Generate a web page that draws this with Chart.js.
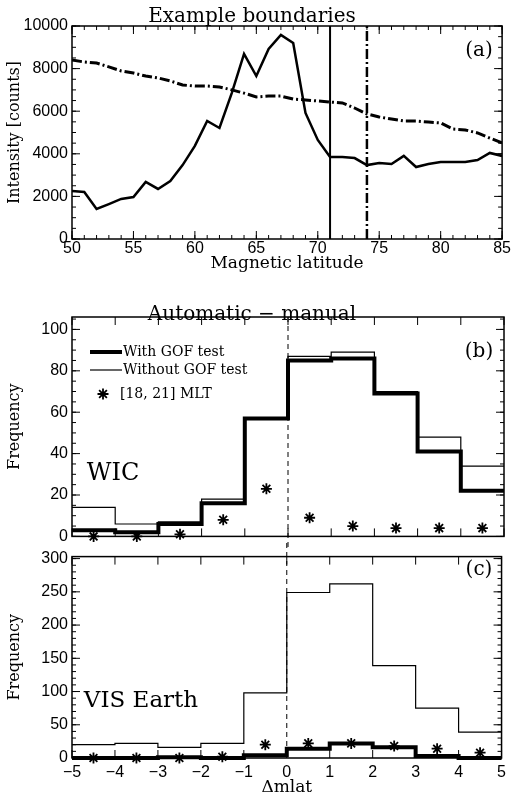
<!DOCTYPE html>
<html>
<head>
<meta charset="utf-8">
<script src="https://cdn.jsdelivr.net/npm/chart.js@4.4.0/dist/chart.umd.min.js"></script>
<style>
body { margin: 0; background: #fff; }
#wrap { position: relative; width: 511px; height: 799px; }
canvas { position: absolute; left: 0; }
</style>
</head>
<body>
<div id="wrap">
  <canvas id="panelA" width="511" height="285" style="top:0px"></canvas>
  <canvas id="panelB" width="511" height="265" style="top:285px"></canvas>
  <canvas id="panelC" width="511" height="256" style="top:543px"></canvas>
</div>
<script>
// panel (a): intensity profile along magnetic latitude
const latitudes = [50, 51, 52, 53, 54, 55, 56, 57, 58, 59, 60, 61, 62, 63, 64, 65, 66, 67,
    68, 69, 70, 71, 72, 73, 74, 75, 76, 77, 78, 79, 80, 81, 82, 83, 84, 85];
const intensity = [2250, 2210, 1410, 1640, 1880, 1970, 2680, 2350, 2720, 3470, 4370, 5540,
    5210, 6850, 8690, 7650, 8920, 9580, 9200, 5920, 4650, 3850, 3850, 3800, 3470, 3570,
    3520, 3900, 3380, 3520, 3620, 3620, 3620, 3710, 4040, 3900];
const background = [8400, 8310, 8260, 8080, 7890, 7790, 7650, 7560, 7420, 7230, 7180, 7180,
    7140, 7000, 6850, 6670, 6710, 6710, 6570, 6530, 6480, 6430, 6390, 6150, 5870, 5730,
    5630, 5540, 5540, 5490, 5450, 5160, 5120, 4980, 4740, 4510];
const boundaries = [71, 74];

// panels (b) and (c): histograms of automatic - manual
const binEdges = [-5, -4, -3, -2, -1, 0, 1, 2, 3, 4, 5];
const binCenters = [-4.5, -3.5, -2.5, -1.5, -0.5, 0.5, 1.5, 2.5, 3.5, 4.5];
const wicWithGof = [3, 2, 6, 16, 57, 85, 86, 69, 41, 22];
const wicWithoutGof = [14, 6, 7, 18, 57, 87, 89, 70, 48, 34];
const wicMlt = [0, 0, 1, 8, 23, 9, 5, 4, 4, 4];
const visWithGof = [0, 0, 1, 0, 4, 14, 22, 16, 3, 0];
const visWithoutGof = [20, 22, 16, 22, 98, 249, 262, 139, 75, 39];
const visMlt = [0, 0, 0, 2, 20, 22, 22, 18, 14, 8];

Chart.defaults.font.family = "'Liberation Sans', Arial, sans-serif";
Chart.defaults.font.size = 16;
Chart.defaults.color = '#000';
Chart.defaults.animation = false;
const serif = "'DejaVu Serif', serif";
const dashDot = [10, 3, 2, 3];

function minusSign(v) { return String(v).replace('-', '\u2212'); }

function histPoints(values) {
    const pts = values.map((v, i) => ({ x: binEdges[i], y: v }));
    pts.push({ x: binEdges[binEdges.length - 1], y: values[values.length - 1] });
    return pts;
}

function yAxis(min, max, step, title) {
    return {
        type: 'linear', min: min, max: max,
        border: { display: false },
        grid: { display: false, drawTicks: false },
        ticks: { stepSize: step, includeBounds: false, padding: 4, callback: v => String(v), font: { size: 16, lineHeight: 1.2 } },
        title: { display: true, text: title, font: { family: serif, size: 16 }, padding: { top: 5, bottom: 0 } },
        afterFit: s => { s.width = 72; }
    };
}

function xAxis(min, max, step, title, labelPad, titlePad, height) {
    return {
        type: 'linear', min: min, max: max,
        border: { display: false },
        grid: { display: false, drawTicks: false },
        ticks: { display: title !== '', stepSize: step, padding: labelPad, maxRotation: 0, callback: minusSign, font: { size: 16, lineHeight: 1.2 } },
        title: { display: title !== '', text: title, font: { family: serif, size: 17 }, padding: { top: 0, bottom: titlePad } },
        afterFit: s => { s.height = height; }
    };
}

// IDL-like box with inward ticks on all four sides, plus free text
const idlFrame = {
    id: 'idlFrame',
    afterDatasetsDraw(chart, args, opts) {
        const { ctx, chartArea: a } = chart;
        const xs = chart.scales.x, ys = chart.scales.y;
        ctx.save();
        ctx.strokeStyle = '#000';
        ctx.lineWidth = 1;
        const marks = (scale, step, len, onX) => {
            if (!step) return;
            const n0 = Math.ceil(scale.min / step - 1e-9), n1 = Math.floor(scale.max / step + 1e-9);
            ctx.beginPath();
            for (let n = n0; n <= n1; n++) {
                const p = scale.getPixelForValue(n * step);
                if (onX) {
                    ctx.moveTo(p, a.bottom); ctx.lineTo(p, a.bottom - len);
                    ctx.moveTo(p, a.top); ctx.lineTo(p, a.top + len);
                } else {
                    ctx.moveTo(a.left, p); ctx.lineTo(a.left + len, p);
                    ctx.moveTo(a.right, p); ctx.lineTo(a.right - len, p);
                }
            }
            ctx.stroke();
        };
        marks(xs, opts.xMinor, 4, true);
        marks(xs, opts.xMajor, 8, true);
        marks(ys, opts.yMinor, 4, false);
        marks(ys, opts.yMajor, 8, false);

        if (opts.zeroLine) {
            const px = xs.getPixelForValue(0);
            ctx.setLineDash([5, 4]);
            ctx.lineWidth = 1;
            ctx.beginPath();
            ctx.moveTo(px, opts.zeroLine === 'down' ? a.top : 0);
            ctx.lineTo(px, opts.zeroLine === 'down' ? chart.height : a.bottom);
            ctx.stroke();
            ctx.setLineDash([]);
        }

        ctx.lineWidth = 1.5;
        ctx.strokeRect(a.left, a.top, a.right - a.left, a.bottom - a.top);

        ctx.fillStyle = '#000';
        ctx.textBaseline = 'middle';
        (opts.texts || []).forEach(t => {
            ctx.font = t.size + 'px ' + serif;
            ctx.textAlign = t.align || 'center';
            ctx.fillText(t.text, t.x, t.y);
        });

        (opts.legend || []).forEach(item => {
            if (item.kind === 'star') {
                ctx.lineWidth = 1.8;
                Chart.helpers.drawPoint(ctx, { pointStyle: 'star', radius: 5.5, borderWidth: 1.8, rotation: 0 }, 103, item.y);
            } else {
                ctx.lineWidth = item.width;
                ctx.beginPath();
                ctx.moveTo(90, item.y);
                ctx.lineTo(122, item.y);
                ctx.stroke();
            }
            ctx.font = '14px ' + serif;
            ctx.textAlign = 'left';
            ctx.fillText(item.text, item.kind === 'star' ? 120 : 123, item.y);
        });
        ctx.restore();
    }
};

function lineSet(points, width, dash) {
    return {
        data: points, borderColor: '#000', borderWidth: width, borderDash: dash || [],
        pointRadius: 0, fill: false, tension: 0, showLine: true
    };
}

function histSet(values, width) {
    const ds = lineSet(histPoints(values), width);
    ds.stepped = true;
    ds.clip = false;
    return ds;
}

function starSet(values) {
    return {
        type: 'scatter',
        data: values.map((v, i) => ({ x: binCenters[i], y: v })),
        pointStyle: 'star', pointRadius: 5.5, borderWidth: 1.8,
        borderColor: '#000', backgroundColor: '#000', clip: false
    };
}

// panel (a)
new Chart(document.getElementById('panelA'), {
    type: 'line',
    data: {
        datasets: [
            lineSet(latitudes.map((lat, i) => ({ x: lat, y: intensity[i] })), 2.5),
            lineSet(latitudes.map((lat, i) => ({ x: lat, y: background[i] })), 3, dashDot),
            lineSet([{ x: boundaries[0], y: 0 }, { x: boundaries[0], y: 10000 }], 2),
            lineSet([{ x: boundaries[1], y: 0 }, { x: boundaries[1], y: 10000 }], 2.5, dashDot)
        ]
    },
    options: {
        responsive: false,
        layout: { autoPadding: false, padding: { right: 7 } },
        scales: {
            x: xAxis(50, 85, 5, 'Magnetic latitude', 0, 11, 46),
            y: yAxis(0, 10000, 2000, 'Intensity [counts]')
        },
        plugins: {
            legend: { display: false },
            tooltip: { enabled: false },
            title: {
                display: true, text: 'Example boundaries',
                font: { family: serif, size: 20, weight: 'normal', lineHeight: '16px' },
                padding: { top: 9, bottom: 1 }
            },
            idlFrame: {
                xMajor: 5, xMinor: 1, yMajor: 2000, yMinor: 500,
                texts: [{ text: '(a)', x: 479, y: 51, size: 20 }]
            }
        }
    },
    plugins: [idlFrame]
});

// panel (b): WIC
new Chart(document.getElementById('panelB'), {
    type: 'line',
    data: {
        datasets: [
            histSet(wicWithGof, 4),
            histSet(wicWithoutGof, 1.2),
            starSet(wicMlt)
        ]
    },
    options: {
        responsive: false,
        layout: { autoPadding: false, padding: { right: 7 } },
        scales: {
            x: xAxis(-5, 5, 1, '', 0, 0, 10),
            y: yAxis(0, 106, 20, 'Frequency')
        },
        plugins: {
            legend: { display: false },
            tooltip: { enabled: false },
            title: {
                display: true, text: 'Automatic \u2212 manual',
                font: { family: serif, size: 20, weight: 'normal', lineHeight: '4px' },
                padding: { top: 28, bottom: 0 }
            },
            idlFrame: {
                xMajor: 1, yMajor: 20, yMinor: 5, zeroLine: 'down',
                texts: [
                    { text: '(b)', x: 479, y: 67, size: 20 },
                    { text: 'WIC', x: 113, y: 189, size: 24 }
                ],
                legend: [
                    { kind: 'line', width: 4, y: 67, text: 'With GOF test' },
                    { kind: 'line', width: 1.2, y: 85, text: 'Without GOF test' },
                    { kind: 'star', y: 109, text: '[18, 21] MLT' }
                ]
            }
        }
    },
    plugins: [idlFrame]
});

// panel (c): VIS Earth
new Chart(document.getElementById('panelC'), {
    type: 'line',
    data: {
        datasets: [
            histSet(visWithGof, 4),
            histSet(visWithoutGof, 1.2),
            starSet(visMlt)
        ]
    },
    options: {
        responsive: false,
        layout: { autoPadding: false, padding: { top: 4, right: 7 } },
        scales: {
            x: xAxis(-5, 5, 1, '\u0394mlat', 5, 1, 41),
            y: yAxis(0, 303, 50, 'Frequency')
        },
        plugins: {
            legend: { display: false },
            tooltip: { enabled: false },
            idlFrame: {
                xMajor: 1, yMajor: 50, yMinor: 10, zeroLine: 'up',
                texts: [
                    { text: '(c)', x: 479, y: 27, size: 20 },
                    { text: 'VIS Earth', x: 141, y: 158, size: 23 }
                ]
            }
        }
    },
    plugins: [idlFrame]
});
</script>
</body>
</html>
